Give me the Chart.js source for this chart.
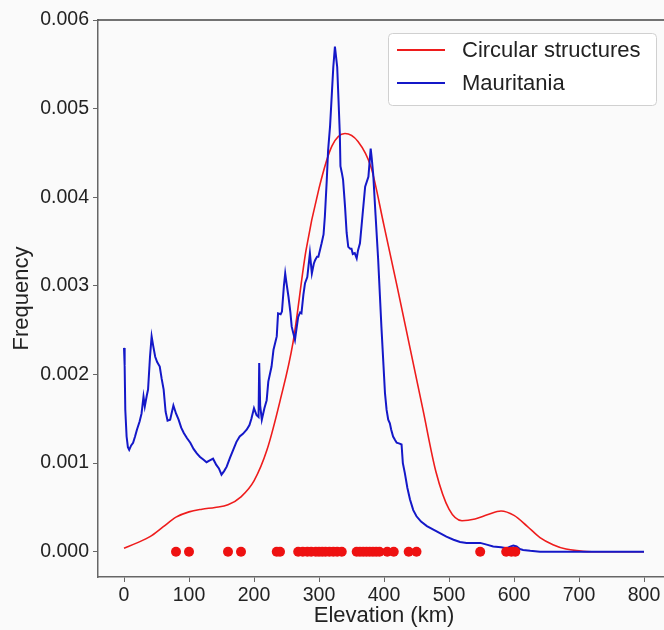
<!DOCTYPE html>
<html>
<head>
<meta charset="utf-8">
<script src="https://cdn.jsdelivr.net/npm/chart.js@4.4.4/dist/chart.umd.min.js"></script>
<style>
  html, body { margin: 0; padding: 0; background: #fafafa; }
  #wrap { width: 664px; height: 630px; overflow: hidden; position: relative; }
  #wrap canvas { position: absolute; left: 0; top: 0; }
</style>
</head>
<body>
<div id="wrap"><canvas id="chart" width="700" height="630"></canvas></div>
<script>
// ---- data ----
const xTicks = [0, 100, 200, 300, 400, 500, 600, 700, 800];
const yTicks = [0, 0.001, 0.002, 0.003, 0.004, 0.005, 0.006];

// KDE of circular structures (red)
const circX = [0, 20, 40, 60, 80, 100, 120, 140, 160, 180, 200, 220, 240, 260, 280, 300, 320, 340, 360, 380,
  400, 420, 440, 460, 480, 500, 520, 540, 560, 580, 600, 620, 640, 660, 680, 700, 720, 760, 800];
const circY = [0.00004, 0.0001, 0.00017, 0.00028, 0.00039, 0.00045, 0.00048, 0.0005, 0.00053, 0.00062, 0.0008,
  0.00115, 0.0017, 0.00236, 0.0034, 0.0041, 0.00458, 0.00472, 0.00463, 0.00434,
  0.00368, 0.0030, 0.0023, 0.0016, 0.0009, 0.00048, 0.00035, 0.00037, 0.00042, 0.00046,
  0.00041, 0.00029, 0.00016, 0.00008, 0.00003, 0.00001, 0, 0, 0];

// individual circular structures (red dots on the zero line)
const dotsX = [80, 100, 160, 180, 235, 240, 268, 275, 282, 288, 295, 300, 305, 310, 316, 322, 328, 335,
  358, 363, 368, 373, 378, 383, 388, 393, 405, 415, 438, 450, 548, 588, 596, 602];

// Mauritania elevation distribution (blue)
const mauX = [0, 1, 2, 4, 6, 8, 11, 14, 17, 20, 24, 27, 30, 32, 35, 37, 40, 42.5, 45, 48, 51, 55, 58, 61, 64, 67,
  71, 76, 80, 84, 88, 92, 97, 102, 107, 112, 117, 122, 127, 132, 137, 142, 146, 150, 154, 158, 163, 168, 173,
  178, 183, 189, 193, 196, 200, 204, 207, 208, 209.5, 212, 216, 219.5, 222, 227, 230, 235, 237, 241, 243, 246,
  248, 250, 253, 256, 258, 261, 263, 266, 268, 271, 273, 276, 278.5, 282, 286, 289, 292, 294, 297, 299, 302,
  304, 307, 309, 312, 314, 317, 320, 322, 324.5, 326, 328, 330, 332, 333, 335, 337, 340, 342.5, 345, 348, 350,
  352, 355, 358, 360, 363, 367, 371, 376, 379.5, 381, 383.5, 387, 391, 396, 401.5, 404, 406.5, 409, 411, 414,
  417, 419.5, 424, 427, 429, 432, 436, 440, 445, 450, 457, 466, 476, 486, 496, 507, 517, 527, 538, 548, 558,
  568, 580, 589, 595, 599, 604, 609, 614, 625, 640, 800];
const mauY = [0.0023, 0.0021, 0.0016, 0.0013, 0.00118, 0.00115, 0.0012, 0.00123, 0.0013, 0.00138, 0.00147,
  0.00156, 0.00175, 0.00164, 0.00176, 0.00183, 0.0022, 0.00243, 0.00232, 0.0022, 0.00214, 0.00209, 0.00195,
  0.00183, 0.00158, 0.00148, 0.00149, 0.00165, 0.00156, 0.00149, 0.0014, 0.00134, 0.00128, 0.00123, 0.00116,
  0.00111, 0.00107, 0.00104, 0.00101, 0.00103, 0.00105, 0.00098, 0.00094, 0.00087, 0.00091, 0.00096, 0.00106,
  0.00115, 0.00124, 0.0013, 0.00133, 0.00138, 0.00143, 0.0015, 0.00162, 0.00154, 0.00152, 0.00213, 0.00165,
  0.00149, 0.00162, 0.00171, 0.00192, 0.00209, 0.00228, 0.00243, 0.00269, 0.00268, 0.00271, 0.003, 0.00314,
  0.00303, 0.00288, 0.0027, 0.00254, 0.00245, 0.00239, 0.00255, 0.00265, 0.0027, 0.00269, 0.0029, 0.00303,
  0.0031, 0.00337, 0.00314, 0.00325, 0.00329, 0.00333, 0.00333, 0.00342, 0.00348, 0.00358, 0.00378, 0.0042,
  0.00453, 0.0048, 0.0052, 0.00547, 0.0057, 0.0056, 0.00547, 0.0051, 0.00472, 0.00435, 0.00428, 0.0042,
  0.0039, 0.0036, 0.00344, 0.00342, 0.00342, 0.00336, 0.00337, 0.00331, 0.0034, 0.00348, 0.0038, 0.00412,
  0.00423, 0.00455, 0.00445, 0.00425, 0.0038, 0.0033, 0.00254, 0.00179, 0.0016, 0.00149, 0.00145, 0.00138,
  0.0013, 0.00126, 0.00123, 0.00122, 0.00121, 0.001, 0.00089, 0.00072, 0.00059, 0.00047, 0.0004, 0.00034,
  0.00029, 0.00025, 0.00021, 0.00017, 0.000135, 0.00011, 0.0001, 0.0001, 0.0001, 0.00008, 0.00006, 0.00005,
  0.00004, 0.00006, 0.00007, 0.00006, 0.00003, 0.00002, 0.00001, 0, 0];

const FONT = '"Liberation Sans", Arial, sans-serif';
const INK = '#222';
const AXIS = '#666';

function pairs(xs, ys) {
  return xs.map(function (x, i) { return { x: x, y: ys[i] }; });
}

// matplotlib-style legend box inside the axes + top spine
const insideLegend = {
  id: 'insideLegend',
  afterDraw: function (chart) {
    const ctx = chart.ctx;
    const area = chart.chartArea;
    ctx.save();
    // top spine
    ctx.strokeStyle = '#444';
    ctx.lineWidth = 1.5;
    ctx.beginPath();
    ctx.moveTo(area.left, area.top);
    ctx.lineTo(area.right, area.top);
    ctx.stroke();

    const items = chart.data.datasets.filter(function (d) { return d.inLegend; });
    const bx = 388, by = 33, bw = 268, bh = 72;
    ctx.fillStyle = 'rgba(255,255,255,0.85)';
    ctx.strokeStyle = '#d0d0d0';
    ctx.lineWidth = 1;
    ctx.beginPath();
    ctx.roundRect(bx + 0.5, by + 0.5, bw, bh, 4);
    ctx.fill();
    ctx.stroke();

    ctx.font = '22px ' + FONT;
    ctx.textBaseline = 'middle';
    ctx.textAlign = 'left';
    items.forEach(function (d, i) {
      const y = 50 + i * 33;
      ctx.strokeStyle = d.borderColor;
      ctx.lineWidth = 2;
      ctx.beginPath();
      ctx.moveTo(397, y);
      ctx.lineTo(445, y);
      ctx.stroke();
      ctx.fillStyle = INK;
      ctx.fillText(d.label, 462, y + 1);
    });
    ctx.restore();
  }
};

new Chart(document.getElementById('chart'), {
  type: 'scatter',
  data: {
    datasets: [
      {
        label: 'Circular structures',
        inLegend: true,
        data: pairs(circX, circY),
        showLine: true,
        borderColor: '#ee1c1c',
        borderWidth: 1.6,
        pointRadius: 0,
        cubicInterpolationMode: 'monotone',
        order: 3
      },
      {
        label: 'Mauritania',
        inLegend: true,
        data: pairs(mauX, mauY),
        showLine: true,
        borderColor: '#1418c8',
        borderWidth: 2,
        pointRadius: 0,
        tension: 0,
        order: 2
      },
      {
        label: 'structures',
        inLegend: false,
        data: dotsX.map(function (x) { return { x: x, y: 0 }; }),
        showLine: false,
        pointRadius: 5,
        pointBackgroundColor: '#ee1111',
        pointBorderWidth: 0,
        order: 1
      }
    ]
  },
  options: {
    responsive: false,
    animation: false,
    layout: { padding: { left: 0, top: 20, right: 30, bottom: 0 } },
    plugins: { legend: { display: false }, tooltip: { enabled: false } },
    scales: {
      x: {
        type: 'linear',
        min: -40,
        max: 840,
        afterBuildTicks: function (scale) { scale.ticks = xTicks.map(function (v) { return { value: v }; }); },
        afterFit: function (scale) { scale.height = 53; },
        grid: { drawOnChartArea: false, drawTicks: true, tickLength: 5, color: AXIS },
        border: { display: true, color: AXIS, width: 1.5 },
        ticks: { color: INK, font: { family: FONT, size: 19.5 }, padding: 2, maxRotation: 0 },
        title: { display: true, text: 'Elevation (km)', color: INK, font: { family: FONT, size: 22 }, padding: { top: 0, bottom: 1 } }
      },
      y: {
        type: 'linear',
        min: -0.000285,
        max: 0.006,
        afterBuildTicks: function (scale) { scale.ticks = yTicks.map(function (v) { return { value: v }; }); },
        afterFit: function (scale) { scale.width = 98; },
        grid: { drawOnChartArea: false, drawTicks: true, tickLength: 5, color: AXIS },
        border: { display: true, color: AXIS, width: 1.5 },
        ticks: {
          color: INK,
          font: { family: FONT, size: 19.5 },
          padding: 4,
          callback: function (v) { return v.toFixed(3); }
        },
        title: { display: true, text: 'Frequency', color: INK, font: { family: FONT, size: 22 }, padding: { top: 9, bottom: 0 } }
      }
    }
  },
  plugins: [insideLegend]
});
</script>
</body>
</html>
